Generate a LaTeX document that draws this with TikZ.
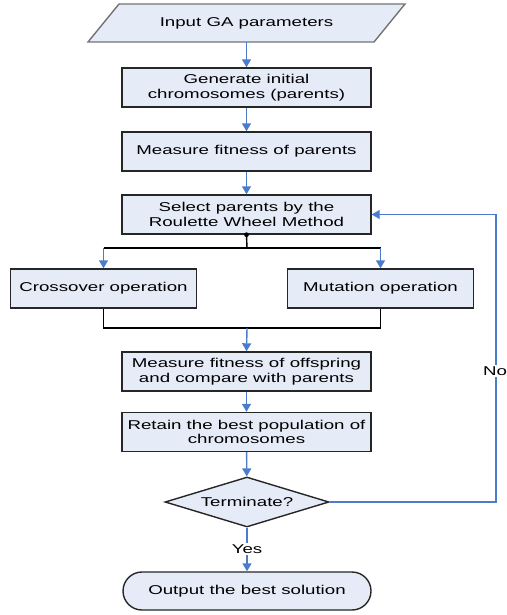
\documentclass[tikz,border=0pt]{standalone}
\usepackage{fontspec}
\setmainfont{Liberation Sans}[FakeStretch=1.46]
\usetikzlibrary{arrows.meta,shapes.geometric,shapes.misc}
\definecolor{boxfill}{HTML}{E6ECF7}
\definecolor{flowblue}{HTML}{4A7CC9}
\begin{document}
\begin{tikzpicture}[x=1pt,y=-1pt,
  every node/.style={font=\fontsize{12.8}{14.5}\selectfont, align=center, inner sep=0pt},
  procbox/.style={draw=black!85, line width=1.4pt, fill=boxfill, minimum width=249pt, minimum height=39pt},
  sidebox/.style={draw=black!85, line width=1.4pt, fill=boxfill, minimum width=186pt, minimum height=39pt},
  flow/.style={draw=flowblue, line width=1.4pt, -{Triangle[width=9pt,length=8pt]}},
  branch/.style={draw=black, line width=1.4pt},
  lbl/.style={fill=white, inner sep=1.5pt}]
\useasboundingbox (0,0) rectangle (506,615);
% input parallelogram
\path[draw=black!55, line width=1.4pt, fill=boxfill] (88,42) -- (119,4) -- (405,4) -- (374,42) -- cycle;
\node (in) [minimum width=286pt, minimum height=38pt] at (246.5,23) {Input GA parameters};
\node (gen) [procbox] at (246.5,87.5) {Generate initial\\chromosomes (parents)};
\node (mfp) [procbox] at (246.5,151.5) {Measure fitness of parents};
\node (sel) [procbox] at (246.5,214.5) {Select parents by the\\Roulette Wheel Method};
\node (cross) [sidebox] at (103.5,288.5) {Crossover operation};
\node (mut) [sidebox] at (380.5,288.5) {Mutation operation};
\node (fit) [procbox] at (246.5,371.5) {Measure fitness of offspring\\and compare with parents};
\node (ret) [procbox] at (246.5,432) {Retain the best population of\\chromosomes};
\node (term) [diamond, aspect=3.28, draw=black!85, line width=1.4pt, fill=boxfill, minimum width=164pt, minimum height=50pt] at (247,502) {Terminate?};
\node (out) [rounded rectangle, draw=black!85, line width=1.4pt, fill=boxfill, minimum width=248pt, minimum height=38pt] at (247,591) {Output the best solution};
\coordinate (bsplit) at (247,248);
\coordinate (bl) at (103.5,248);
\coordinate (br) at (380.5,248);
\coordinate (jl) at (103.5,328);
\coordinate (jr) at (380.5,328);
\coordinate (jm) at (247,328);
\coordinate (fbb) at (496,502);
\coordinate (fbt) at (496,214.5);
% connectors
\draw[flow] (in.south -| gen.north) -- (gen.north);
\draw[flow] (gen) -- (mfp);
\draw[flow] (mfp) -- (sel);
\draw[branch] (sel.south) -- (bsplit);
\fill (sel.south) circle (2.4pt);
\draw[branch] (bl) -- (br);
\draw[flow] (bl) -- (cross.north);
\draw[flow] (br) -- (mut.north);
\draw[branch] (cross.south) -- (jl) -- (jr) -- (mut.south);
\draw[flow] (jm) -- (fit.north);
\draw[flow] (fit) -- (ret);
\draw[flow] (ret) -- (term);
\draw[flow] (term.east) -- (fbb) -- (fbt) -- (sel.east);
\node[lbl] at (495,371) {No};
\draw[flow] (term.south) -- (out.north);
\node[lbl] at (247,549) {Yes};
\end{tikzpicture}
\end{document}
